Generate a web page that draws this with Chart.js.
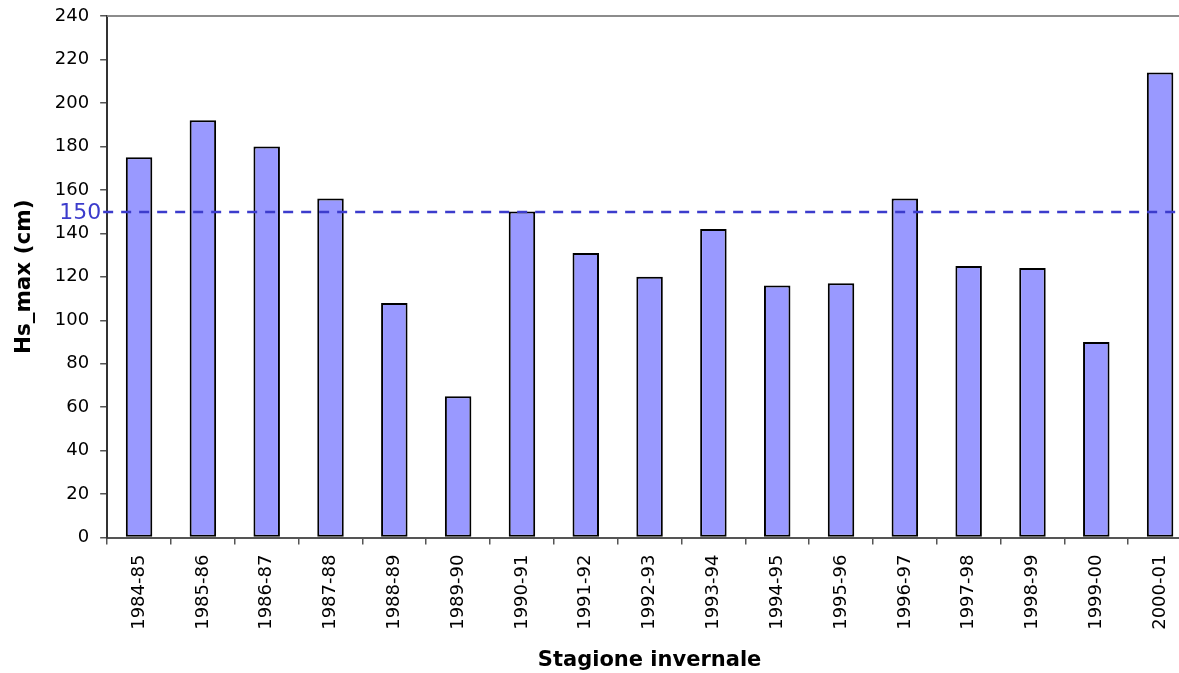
<!DOCTYPE html>
<html>
<head>
<meta charset="utf-8">
<script src="https://cdn.jsdelivr.net/npm/chart.js@4"></script>
<style>
  html, body { margin: 0; padding: 0; background: #fff; overflow: hidden; }
  #wrap { width: 1200px; height: 673px; }
</style>
</head>
<body>
<div id="wrap"><canvas id="c" width="1200" height="673"></canvas></div>
<script>
// Winter seasons and maximum snow depth (cm)
const seasons = ['1984-85','1985-86','1986-87','1987-88','1988-89','1989-90','1990-91','1991-92','1992-93','1993-94','1994-95','1995-96','1996-97','1997-98','1998-99','1999-00','2000-01'];
const hsMax = [175, 192, 180, 156, 108, 65, 150, 131, 120, 142, 116, 117, 156, 125, 124, 90, 214];
const yTicks = [0, 20, 40, 60, 80, 100, 120, 140, 160, 180, 200, 220, 240];
const threshold = 150;

const FONT = "'DejaVu Sans', Verdana, sans-serif";

// Top frame line and dashed reference level with its label
const overlay = {
  id: 'overlay',
  afterDatasetsDraw(chart) {
    const { ctx, chartArea: a, scales: { y } } = chart;
    ctx.save();
    ctx.strokeStyle = '#8c8c8c';
    ctx.lineWidth = 2;
    ctx.beginPath();
    ctx.moveTo(a.left, a.top);
    ctx.lineTo(a.right, a.top);
    ctx.stroke();

    const py = Math.round(y.getPixelForValue(threshold));
    ctx.strokeStyle = '#3c3ccc';
    ctx.lineWidth = 2.5;
    ctx.setLineDash([10, 8]);
    ctx.beginPath();
    ctx.moveTo(a.left - 4, py);
    ctx.lineTo(a.right, py);
    ctx.stroke();
    ctx.setLineDash([]);

    ctx.fillStyle = '#3c3ccc';
    ctx.font = '22px ' + FONT;
    ctx.textAlign = 'right';
    ctx.textBaseline = 'middle';
    ctx.fillText(String(threshold), a.left - 6, py + 1);
    ctx.restore();
  }
};

new Chart(document.getElementById('c'), {
  type: 'bar',
  data: {
    labels: seasons,
    datasets: [{
      data: hsMax,
      backgroundColor: '#9999ff',
      borderColor: '#000000',
      borderWidth: 2,
      borderSkipped: false,
      categoryPercentage: 1,
      barPercentage: 0.415
    }]
  },
  options: {
    responsive: false,
    animation: false,
    layout: { padding: { left: 12, right: 8, top: 16, bottom: 0 } },
    plugins: { legend: { display: false }, tooltip: { enabled: false } },
    scales: {
      x: {
        grid: { display: true, drawOnChartArea: false, offset: true, tickLength: 7, color: '#555', lineWidth: 1.5 },
        border: { display: true, color: '#555', width: 2 },
        ticks: { color: '#000', font: { family: FONT, size: 18 }, minRotation: 90, maxRotation: 90, padding: 10 },
        title: { display: true, text: 'Stagione invernale', color: '#000', font: { family: FONT, size: 21, weight: 'bold' }, padding: { top: 8, bottom: 0 } }
      },
      y: {
        min: 0, max: 240,
        afterBuildTicks(scale) { scale.ticks = yTicks.map(v => ({ value: v })); },
        afterFit(scale) { scale.paddingTop = 0; },
        grid: { display: true, drawOnChartArea: false, tickLength: 7, color: '#555', lineWidth: 1.5 },
        border: { display: true, color: '#333', width: 2 },
        ticks: { color: '#000', font: { family: FONT, size: 18 }, padding: 11 },
        title: { display: true, text: 'Hs_max (cm)', color: '#000', font: { family: FONT, size: 21.5, weight: 'bold' }, padding: { top: 0, bottom: 6 } }
      }
    }
  },
  plugins: [overlay]
});
</script>
</body>
</html>
